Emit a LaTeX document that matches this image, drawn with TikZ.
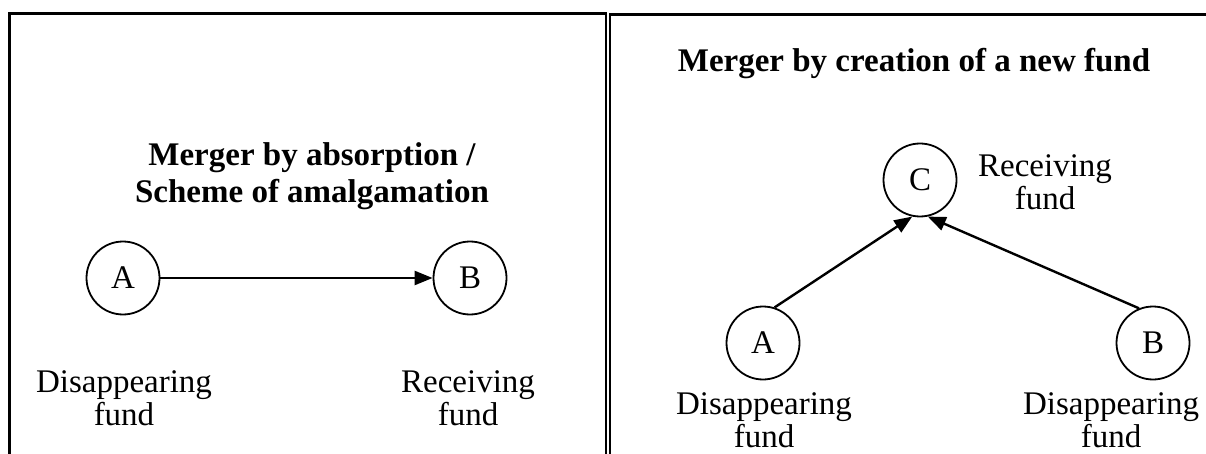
\documentclass[tikz,border=0pt]{standalone}
\usepackage{fontspec}
\setmainfont{Liberation Serif}
\usetikzlibrary{arrows.meta}
\tikzset{
  fund/.style={circle, draw, line width=1.8pt, minimum size=73pt, inner sep=0pt,
    font=\fontsize{33}{36}\selectfont},
  caption/.style={align=center, inner sep=0pt, font=\fontsize{33}{33}\selectfont},
  heading/.style={align=center, inner sep=0pt, font=\bfseries\fontsize{33}{37}\selectfont},
  flow/.style={line width=2.4pt, -{Triangle[length=18pt,width=14pt]}},
  frame/.style={line width=3pt},
  divider/.style={line width=2pt}
}
\begin{document}
\begin{tikzpicture}[x=1pt,y=-1pt]
  \useasboundingbox (0,0) rectangle (1206,454);
  % panel borders
  \draw[frame] (9.5,454) -- (9.5,13.5) -- (607,13.5);
  \draw[divider] (606,13) -- (606,454);
  \draw[divider] (610,14.5) -- (610,454);
  \draw[frame] (609,14.5) -- (1206,14.5);

  % left panel: merger by absorption
  \node[heading, anchor=base] (tl1) at (312,166) {Merger by absorption /};
  \node[heading, anchor=base] (tl2) at (312,203) {Scheme of amalgamation};
  \node[fund] (la) at (123,278) {A};
  \node[fund] (lb) at (470,278) {B};
  \draw[flow] (la.east) -- (lb.west);
  % captions: base anchor sits on the baseline of the last line
  \node[caption, anchor=base] (lad) at (124,425) {Disappearing\\fund};
  \node[caption, anchor=base] (lbr) at (468,425) {Receiving\\fund};

  % right panel: merger by creation of a new fund
  \node[heading, anchor=base] (tr) at (914,72) {Merger by creation of a new fund};
  \node[fund] (rc) at (920,180) {C};
  \node[fund] (ra) at (763,343) {A};
  \node[fund] (rb) at (1153,343) {B};
  \draw[flow] (ra.72) -- (rc.-102);
  \draw[flow] (rb.112) -- (rc.-78);
  \node[caption, anchor=base] (rcr) at (1045,210) {Receiving\\fund};
  \node[caption, anchor=base] (rad) at (764,447) {Disappearing\\fund};
  \node[caption, anchor=base] (rbd) at (1111,447) {Disappearing\\fund};
\end{tikzpicture}
\end{document}
